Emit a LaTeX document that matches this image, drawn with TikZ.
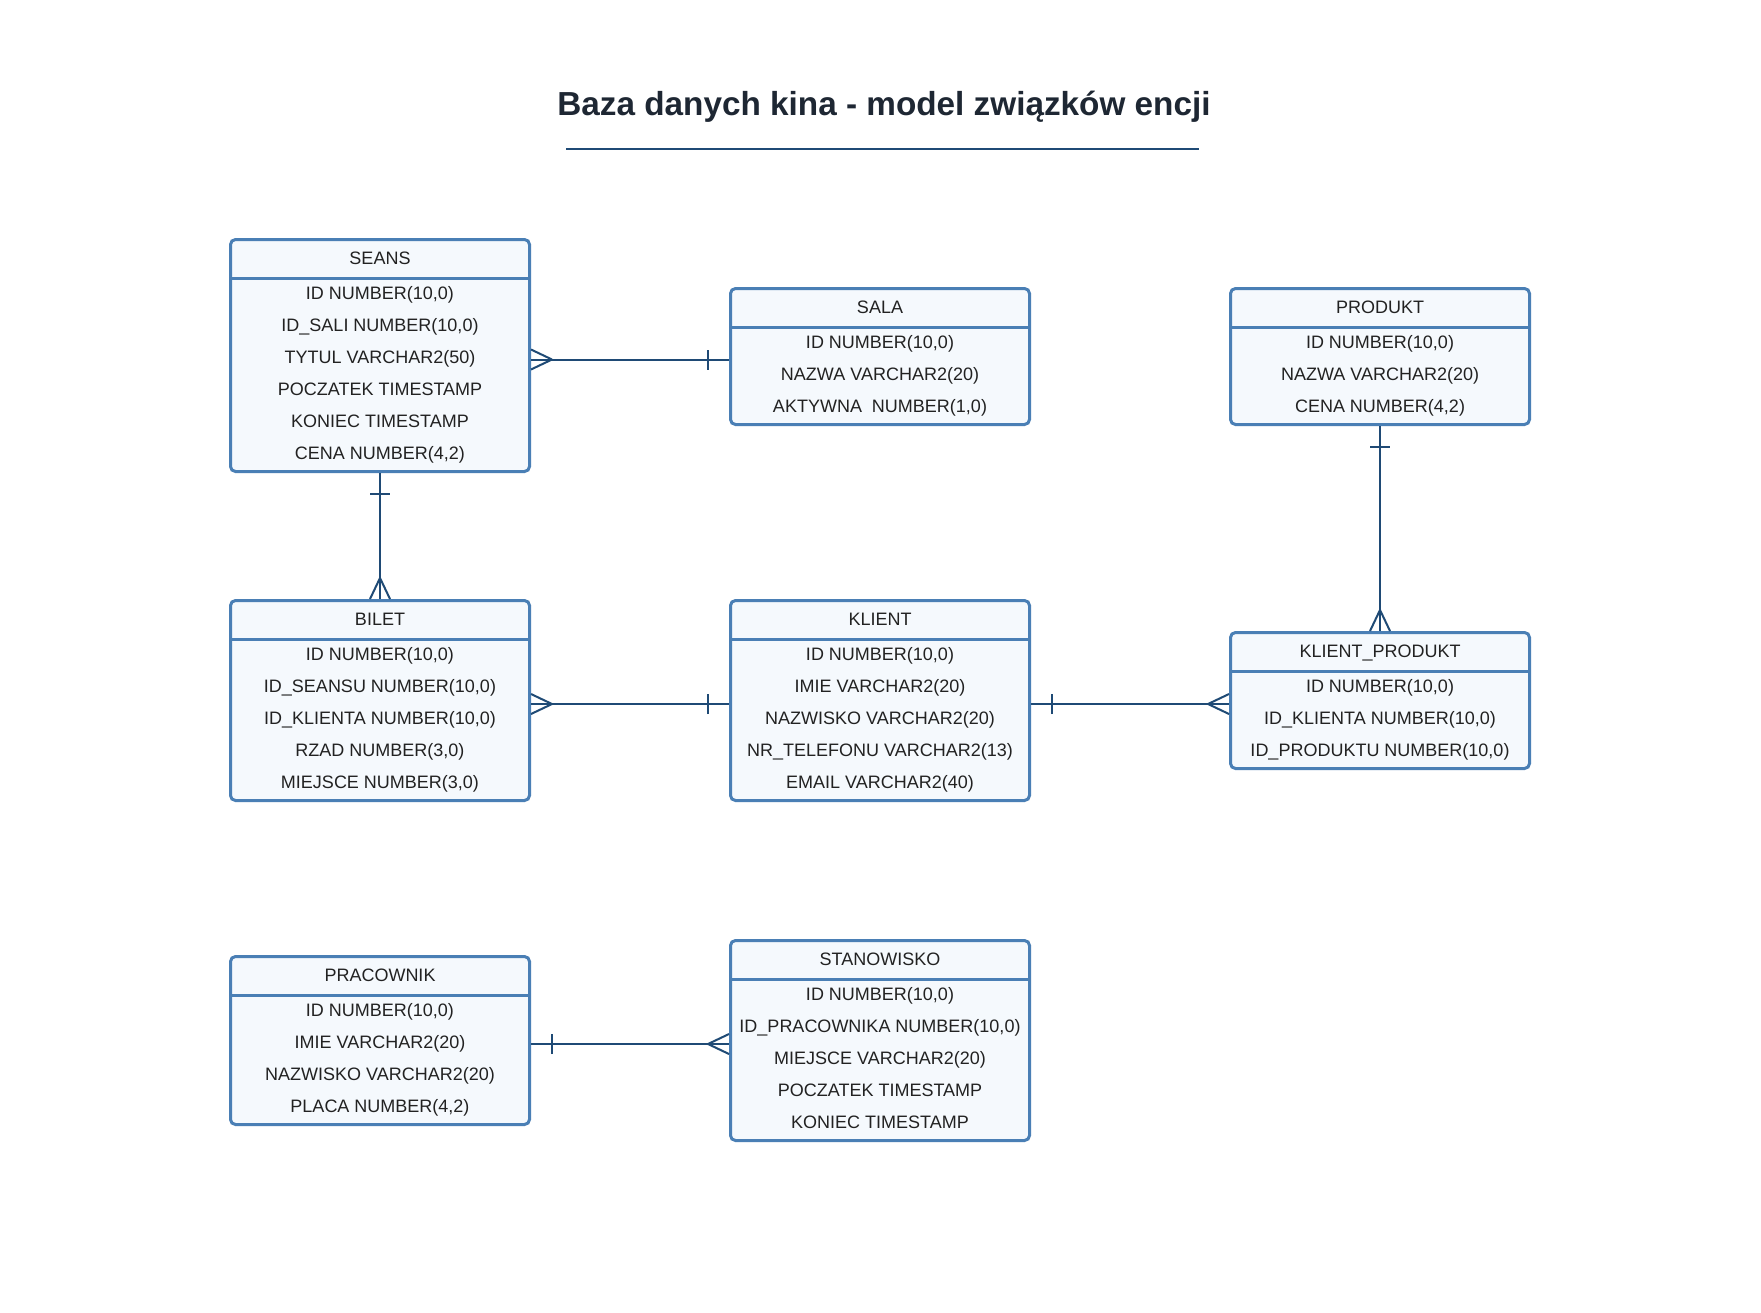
\documentclass[tikz,border=0pt]{standalone}
\usepackage{fontspec}
\setmainfont{Liberation Sans}
\usepackage{xcolor}
\usepackage{tikz}
\usetikzlibrary{decorations.markings}
\definecolor{tblborder}{HTML}{4A7FB5}
\definecolor{tblfill}{HTML}{F5F9FD}
\definecolor{relblue}{HTML}{1F4A75}
\definecolor{inktext}{HTML}{222222}
\definecolor{titleink}{HTML}{1E2733}
\tikzset{
  tbl/.style      ={rectangle, rounded corners=5pt, draw=tblborder, line width=3pt,
                    fill=tblfill, minimum width=299pt, inner sep=0pt},
  tblline/.style  ={draw=tblborder, line width=3pt},
  tbltext/.style  ={text=inktext, inner sep=0pt, font=\fontsize{18}{22}\selectfont},
  titletext/.style={text=titleink, inner sep=0pt, font=\fontsize{33.3}{40}\selectfont\bfseries},
  rel/.style      ={draw=relblue, line width=2pt},
  onestart/.style ={postaction={decorate, decoration={markings,
                     mark=at position 21pt with {\draw[rel] (0,-10pt) -- (0,10pt);}}}},
  oneend/.style   ={postaction={decorate, decoration={markings,
                     mark=at position -21pt with {\draw[rel] (0,-10pt) -- (0,10pt);}}}},
  manystart/.style={postaction={decorate, decoration={markings,
                     mark=at position 21pt with {\draw[rel] (0,0) -- (-21pt,10pt) (0,0) -- (-21pt,-10pt);}}}},
  manyend/.style  ={postaction={decorate, decoration={markings,
                     mark=at position -21pt with {\draw[rel] (0,0) -- (21pt,10pt) (0,0) -- (21pt,-10pt);}}}}
}
% #1 name, #2 top left corner, #3 number of rows, #4 title, #5 rows
\newcommand{\ertable}[5]{%
  \node[tbl, minimum height={40pt+32pt*#3}, anchor=north west] (#1) at (#2) {};
  \node[tbltext, anchor=base] (#1-t) at ([yshift=-26pt]#1.north) {#4};
  \draw[tblline] ([yshift=-40pt]#1.north west) -- ([yshift=-40pt]#1.north east);
  \foreach \row [count=\k] in {#5}
    \node[tbltext, anchor=base] (#1-\k) at ([yshift={-29.5pt-32pt*\k}]#1.north) {\row};
}

\begin{document}
\begin{tikzpicture}[x=1pt, y=-1pt]
  \fill[white] (0,0) rectangle (1761,1312);
  \useasboundingbox (0,0) rectangle (1761,1312);

  % title
  \node[titletext, anchor=base] (title) at (884,115) {Baza danych kina - model związków encji};
  \draw[rel] (566,149) -- (1199,149);

  % tables
  \ertable{seans}{229,238}{6}{SEANS}{{ID NUMBER(10,0)}, {ID\_SALI NUMBER(10,0)},
    {TYTUL VARCHAR2(50)}, {POCZATEK TIMESTAMP}, {KONIEC TIMESTAMP}, {CENA NUMBER(4,2)}}
  \ertable{sala}{729,287}{3}{SALA}{{ID NUMBER(10,0)}, {NAZWA VARCHAR2(20)},
    {AKTYWNA\ \ NUMBER(1,0)}}
  \ertable{produkt}{1229,287}{3}{PRODUKT}{{ID NUMBER(10,0)}, {NAZWA VARCHAR2(20)},
    {CENA NUMBER(4,2)}}
  \ertable{bilet}{229,599}{5}{BILET}{{ID NUMBER(10,0)}, {ID\_SEANSU NUMBER(10,0)},
    {ID\_KLIENTA NUMBER(10,0)}, {RZAD NUMBER(3,0)}, {MIEJSCE NUMBER(3,0)}}
  \ertable{klient}{729,599}{5}{KLIENT}{{ID NUMBER(10,0)}, {IMIE VARCHAR2(20)},
    {NAZWISKO VARCHAR2(20)}, {NR\_TELEFONU VARCHAR2(13)}, {EMAIL VARCHAR2(40)}}
  \ertable{kprodukt}{1229,631}{3}{KLIENT\_PRODUKT}{{ID NUMBER(10,0)},
    {ID\_KLIENTA NUMBER(10,0)}, {ID\_PRODUKTU NUMBER(10,0)}}
  \ertable{pracownik}{229,955}{4}{PRACOWNIK}{{ID NUMBER(10,0)}, {IMIE VARCHAR2(20)},
    {NAZWISKO VARCHAR2(20)}, {PLACA NUMBER(4,2)}}
  \ertable{stanowisko}{729,939}{5}{STANOWISKO}{{ID NUMBER(10,0)},
    {ID\_PRACOWNIKA NUMBER(10,0)}, {MIEJSCE VARCHAR2(20)}, {POCZATEK TIMESTAMP},
    {KONIEC TIMESTAMP}}

  % relationships
  \draw[rel, manystart, oneend] ([yshift=-4pt]seans.east) -- ([yshift=-4pt]seans.east -| sala.west);
  \draw[rel, onestart, manyend] (seans.south) -- (bilet.north);
  \draw[rel, manystart, oneend] ([yshift=-3.5pt]bilet.east) -- ([yshift=-3.5pt]klient.west);
  \draw[rel, onestart, manyend] ([yshift=-3.5pt]klient.east) -- ([yshift=-3.5pt]kprodukt.west);
  \draw[rel, onestart, manyend] (produkt.south) -- (kprodukt.north);
  \draw[rel, onestart, manyend] ([yshift=-3.5pt]pracownik.east) -- ([yshift=-3.5pt]stanowisko.west);
\end{tikzpicture}
\end{document}
